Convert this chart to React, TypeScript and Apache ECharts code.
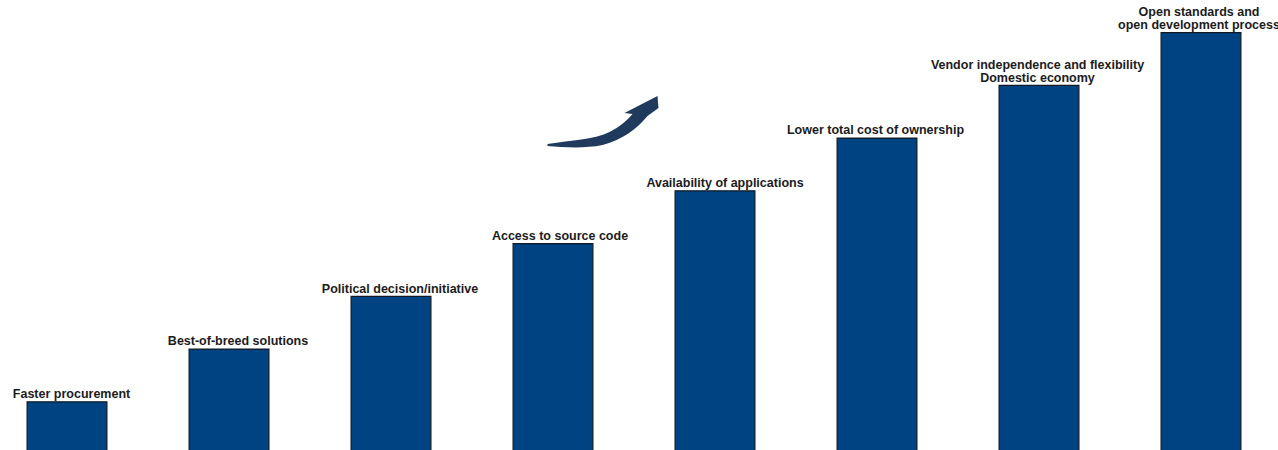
import React, { useEffect, useRef } from "react";
import * as echarts from "echarts";

// Drivers of adoption, ordered from least to most important
const categories: string[] = [
  "Faster procurement",
  "Best-of-breed solutions",
  "Political decision/initiative",
  "Access to source code",
  "Availability of applications",
  "Lower total cost of ownership",
  "Vendor independence and flexibility\nDomestic economy",
  "Open standards and\nopen development process",
];
const ranks: number[] = [1, 2, 3, 4, 5, 6, 7, 8];
// Horizontal nudge of each label relative to its bar centre (px)
const labelShift: number[] = [4.5, 9, 9, 7, 10, -1.5, -1.5, -2];

// Curved "rising" arrow outline
const ARROW_PATH =
  "M 0 48 C 25 44 45 44 62 36 C 72 31 80 24 85 18 L 77 17 L 110 0 L 111 12 L 100 20 " +
  "C 90 32 75 44 55 49 C 35 53 15 51 0 50 Z";
echarts.graphic.registerShape("riseArrow", echarts.graphic.extendPath(ARROW_PATH, {}) as any);

export default function App() {
  const ref = useRef<HTMLDivElement>(null);
  useEffect(() => {
    if (!ref.current) return;
    const chart = echarts.init(ref.current, null, { renderer: "svg" });
    chart.setOption({
      animation: false,
      grid: { left: 0, right: 0, top: 32, bottom: 0, containLabel: false },
      xAxis: {
        type: "category",
        data: categories,
        show: false,
      },
      yAxis: { type: "value", min: 0, max: 8, show: false },
      series: [
        {
          type: "bar",
          data: ranks.map((v, i) => ({
            value: v,
            label: { offset: [labelShift[i], 0] },
          })),
          barWidth: 81,
          itemStyle: { color: "#004382", borderColor: "#111a24", borderWidth: 1.2 },
          label: {
            show: true,
            position: "top",
            distance: 1,
            formatter: (p: any) => categories[p.dataIndex],
            fontFamily: "Liberation Sans, Arial, sans-serif",
            fontWeight: "bold",
            fontSize: 12.5,
            lineHeight: 12.5,
            color: "#1c1c1c",
            align: "center",
          },
        },
      ],
      graphic: [
        {
          type: "riseArrow",
          x: 547 + 14.5,
          y: 96,
          style: { fill: "#1f3a5c" },
        },
      ],
    });
    return () => chart.dispose();
  }, []);
  return (
    <div
      style={{
        position: "fixed",
        left: 0,
        top: 0,
        width: 1278,
        height: 450,
        overflow: "hidden",
        background: "#fff",
      }}
    >
      <div
        ref={ref}
        style={{ position: "absolute", left: -14.5, top: 0, width: 1296, height: 454 }}
      />
    </div>
  );
}
